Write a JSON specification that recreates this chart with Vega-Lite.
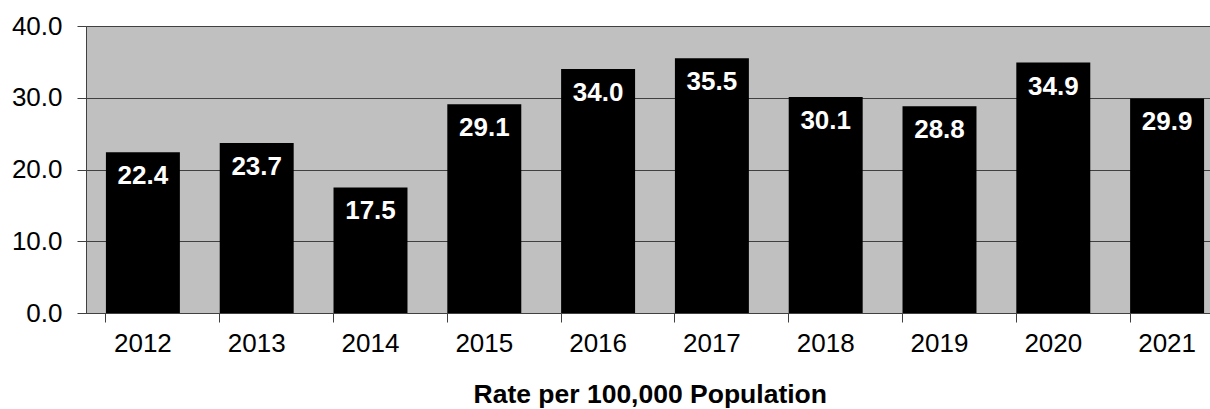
{
  "$schema": "https://vega.github.io/schema/vega-lite/v6.json",
  "autosize": {"type": "none"},
  "padding": {"left": 86, "top": 26, "right": 0, "bottom": 96},
  "width": 1138,
  "height": 287,
  "background": "white",
  "config": {
    "view": {"fill": "#c0c0c0", "stroke": "#808080", "strokeWidth": 1},
    "font": "Liberation Sans"
  },
  "data": {
    "values": [
      {"year": "2012", "rate": 22.4},
      {"year": "2013", "rate": 23.7},
      {"year": "2014", "rate": 17.5},
      {"year": "2015", "rate": 29.1},
      {"year": "2016", "rate": 34.0},
      {"year": "2017", "rate": 35.5},
      {"year": "2018", "rate": 30.1},
      {"year": "2019", "rate": 28.8},
      {"year": "2020", "rate": 34.9},
      {"year": "2021", "rate": 29.9}
    ]
  },
  "encoding": {
    "x": {
      "field": "year", "type": "ordinal",
      "scale": {"paddingInner": 0.35, "paddingOuter": 0.175},
      "axis": {
        "title": "Rate per 100,000 Population",
        "titleFont": "Liberation Sans", "titleFontSize": 26.5, "titleFontWeight": "bold",
        "titleColor": "black", "titlePadding": 25, "titleAnchor": "start", "titleX": 387,
        "labelAngle": 0, "labelFontSize": 26, "labelColor": "black", "labelPadding": 8,
        "labelFont": "Liberation Sans",
        "bandPosition": 0, "tickSize": 9, "tickColor": "#404040",
        "domainColor": "#404040", "grid": false
      }
    },
    "y": {
      "field": "rate", "type": "quantitative",
      "scale": {"domain": [0, 40], "nice": false},
      "axis": {
        "title": null, "values": [0, 10, 20, 30, 40], "format": ".1f",
        "labelFontSize": 26, "labelColor": "black", "labelPadding": 15,
        "labelFont": "Liberation Sans",
        "tickSize": 9, "tickColor": "#404040", "domainColor": "#404040",
        "grid": true, "gridColor": "#404040", "gridOpacity": 1
      }
    }
  },
  "layer": [
    {"mark": {"type": "bar", "color": "black"}},
    {
      "mark": {"type": "text", "color": "white", "fontSize": 26, "fontWeight": "bold",
               "baseline": "middle", "dy": 24, "font": "Liberation Sans"},
      "encoding": {"text": {"field": "rate", "type": "quantitative", "format": ".1f"}}
    }
  ]
}
